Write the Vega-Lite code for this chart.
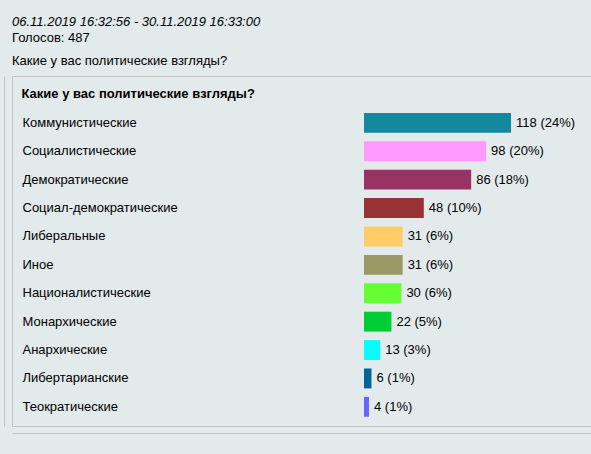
{
  "$schema": "https://vega.github.io/schema/vega-lite/v6.json",
  "autosize": "none",
  "width": 590,
  "height": 350,
  "padding": {"left": 12, "top": 76, "right": 0, "bottom": 28},
  "background": "#e2eaec",
  "title": {
    "text": "06.11.2019 16:32:56 - 30.11.2019 16:33:00",
    "subtitle": ["Голосов: 487", "Какие у вас политические взгляды?"],
    "anchor": "start",
    "frame": "group",
    "font": "Liberation Sans",
    "fontSize": 13,
    "fontStyle": "italic",
    "fontWeight": "normal",
    "color": "#000000",
    "subtitleFont": "Liberation Sans",
    "subtitleFontSize": 13,
    "subtitleColor": "#000000",
    "subtitleLineHeight": 23,
    "subtitlePadding": 3,
    "offset": 8
  },
  "data": {
    "values": [
      {"option": "Коммунистические", "count": 118, "label": "118 (24%)"},
      {"option": "Социалистические", "count": 98, "label": "98 (20%)"},
      {"option": "Демократические", "count": 86, "label": "86 (18%)"},
      {"option": "Социал-демократические", "count": 48, "label": "48 (10%)"},
      {"option": "Либеральные", "count": 31, "label": "31 (6%)"},
      {"option": "Иное", "count": 31, "label": "31 (6%)"},
      {"option": "Националистические", "count": 30, "label": "30 (6%)"},
      {"option": "Монархические", "count": 22, "label": "22 (5%)"},
      {"option": "Анархические", "count": 13, "label": "13 (3%)"},
      {"option": "Либертарианские", "count": 6, "label": "6 (1%)"},
      {"option": "Теократические", "count": 4, "label": "4 (1%)"}
    ]
  },
  "encoding": {
    "y": {
      "field": "option",
      "type": "nominal",
      "sort": null,
      "scale": {"paddingInner": 0.3, "paddingOuter": 0.812, "align": 0.8},
      "axis": {
        "orient": "left",
        "offset": 8,
        "title": null,
        "ticks": false,
        "tickSize": 0,
        "domain": true,
        "domainColor": "#c3c3c3",
        "labelAlign": "left",
        "labelBaseline": "middle",
        "labelPadding": -18,
        "labelFont": "Liberation Sans",
        "labelFontSize": 13,
        "labelColor": "#000000",
        "labelLimit": 400,
        "grid": false
      }
    }
  },
  "layer": [
    {
      "mark": {"type": "bar"},
      "encoding": {
        "x": {
          "field": "count",
          "type": "quantitative",
          "scale": {"domain": [-282.5, 191], "nice": false, "zero": false},
          "axis": {
            "orient": "top",
            "domain": false,
            "ticks": false,
            "labels": false,
            "grid": false,
            "title": "Какие у вас политические взгляды?",
            "titleFont": "Liberation Sans",
            "titleFontSize": 13,
            "titleFontWeight": "bold",
            "titleColor": "#000000",
            "titleAlign": "left",
            "titleAnchor": "start",
            "titleX": 9,
            "titleY": 17,
            "titleBaseline": "middle",
            "titlePadding": 0
          }
        },
        "x2": {"datum": 0},
        "color": {
          "field": "option",
          "type": "nominal",
          "scale": {
            "domain": ["Коммунистические", "Социалистические", "Демократические", "Социал-демократические", "Либеральные", "Иное", "Националистические", "Монархические", "Анархические", "Либертарианские", "Теократические"],
            "range": ["#13889f", "#ff99ff", "#993366", "#993333", "#ffcc66", "#999966", "#66ff33", "#00cc33", "#00ffff", "#006699", "#6666ff"]
          },
          "legend": null
        }
      }
    },
    {
      "mark": {"type": "text", "align": "left", "baseline": "middle", "dx": 5, "font": "Liberation Sans", "fontSize": 13, "color": "#000000"},
      "encoding": {
        "x": {
          "field": "count",
          "type": "quantitative",
          "axis": {
            "orient": "bottom",
            "offset": 7,
            "domain": true,
            "domainColor": "#c3c3c3",
            "ticks": false,
            "labels": false,
            "grid": false,
            "title": null
          }
        },
        "text": {"field": "label"}
      }
    }
  ],
  "resolve": {"axis": {"x": "independent"}},
  "config": {
    "view": {"stroke": "#c3c3c3", "strokeWidth": 1}
  }
}
